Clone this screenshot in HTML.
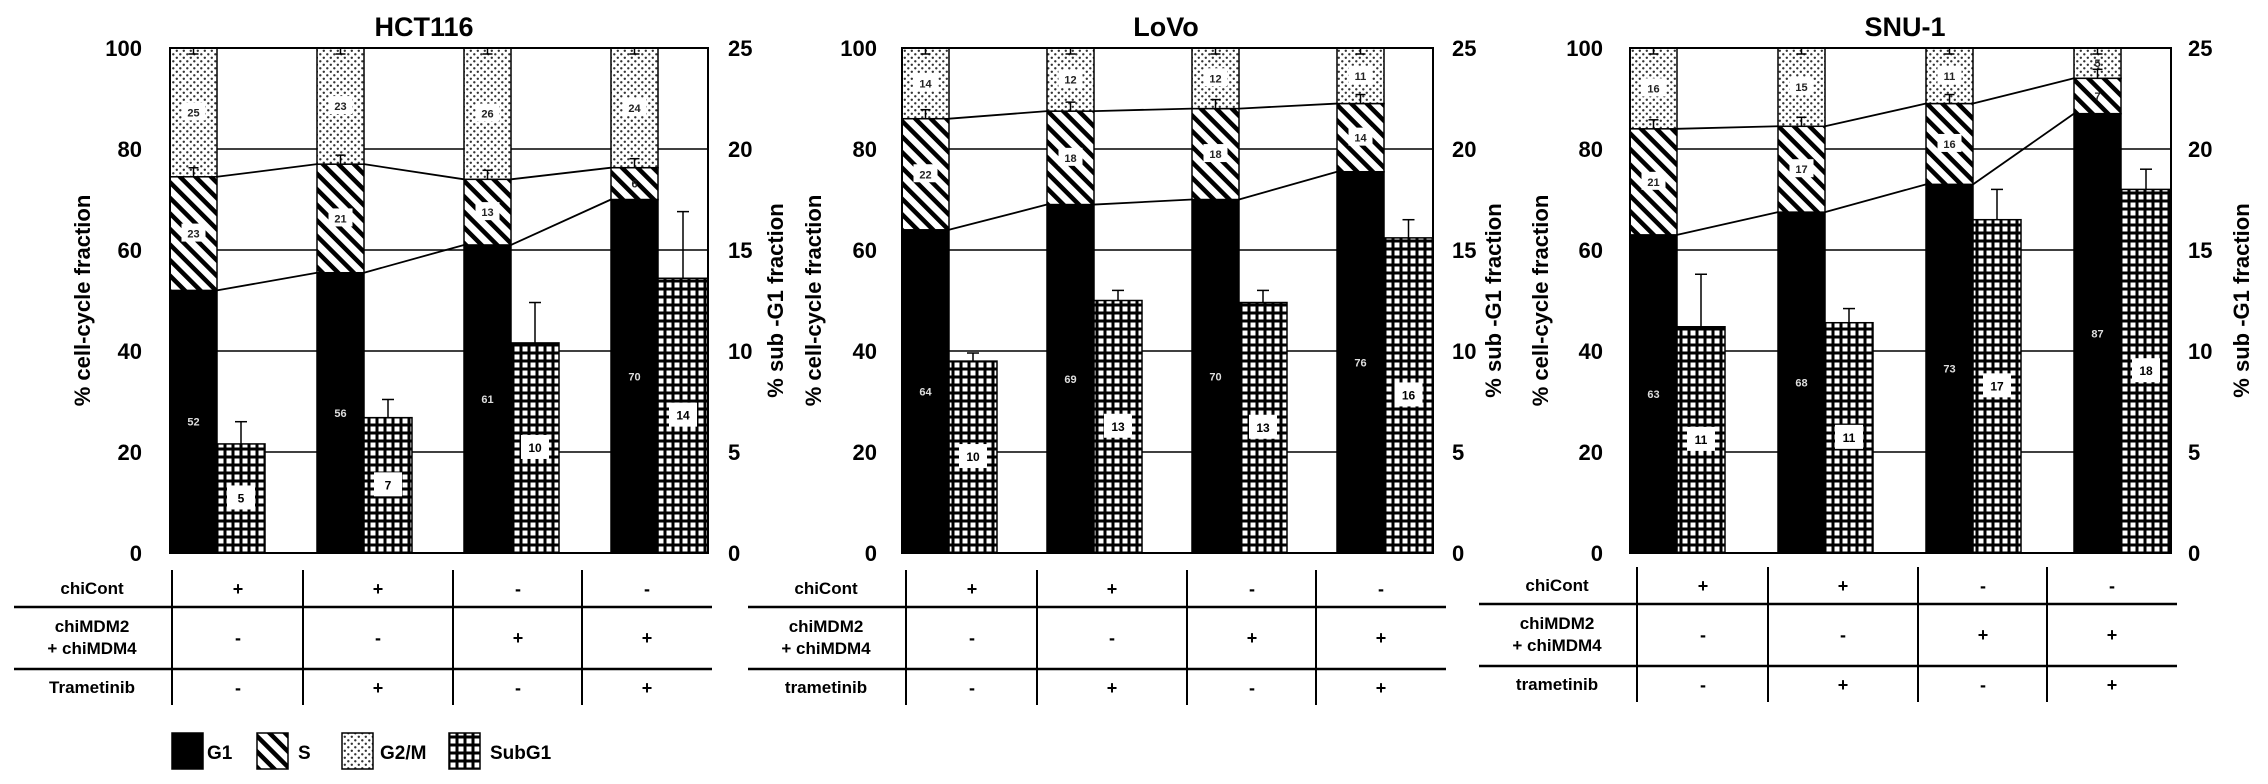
<!DOCTYPE html>
<html><head><meta charset="utf-8"><style>
html,body{margin:0;padding:0;background:#fff;}
svg{display:block;font-family:"Liberation Sans",Arial,sans-serif;}
</style></head><body>
<svg id="fig" width="2268" height="784" viewBox="0 0 2268 784" xmlns="http://www.w3.org/2000/svg">
<defs>
<pattern id="stripe" width="11" height="11" patternUnits="userSpaceOnUse" patternTransform="rotate(-45)"><rect width="11" height="11" fill="#fff"/><rect width="4.5" height="11" fill="#000"/></pattern>
<pattern id="dots" width="7" height="7" patternUnits="userSpaceOnUse"><rect width="7" height="7" fill="#fff"/><circle cx="1.8" cy="1.8" r="1.2" fill="#333"/><circle cx="5.3" cy="5.3" r="1.2" fill="#333"/></pattern>
<pattern id="grid" width="8" height="8" patternUnits="userSpaceOnUse"><rect width="8" height="8" fill="#000"/><rect x="2.5" y="2.5" width="5" height="5" fill="#fff"/></pattern>
</defs>
</svg>
<script>
// ---- data ----
const cellLines = ["HCT116","LoVo","SNU-1"];
const g1Values = [[52,55.5,61,70],[64,69,70,75.5],[63,67.5,73,87]];
const sValues = [[22.5,21.5,13,6.3],[22,18.5,18,13.5],[21,17,16,7]];
const g2mValues = [[25.5,23,26,23.7],[14,12.5,12,11],[16,15.5,11,6]];
const g1Labels = [["52","56","61","70"],["64","69","70","76"],["63","68","73","87"]];
const sLabels = [["23","21","13","6"],["22","18","18","14"],["21","17","16","7"]];
const g2mLabels = [["25","23","26","24"],["14","12","12","11"],["16","15","11","5"]];
const subG1Values = [[5.4,6.7,10.4,13.6],[9.5,12.5,12.4,15.6],[11.2,11.4,16.5,18]];
const subG1Errors = [[1.1,0.9,2,3.3],[0.4,0.5,0.6,0.9],[2.6,0.7,1.5,1.0]];
const subG1Labels = [["5","7","10","14"],["10","13","13","16"],["11","11","17","18"]];
const leftTicks = [0,20,40,60,80,100];
const rightTicks = [0,5,10,15,20,25];
const chiCont = ["+","+","-","-"];
const chiMDM = ["-","-","+","+"];
const trametinib = ["-","+","-","+"];

// ---- layout ----
const panels = [
 {left:170,right:708,pitch:147,tickR:142,rTickL:728,title:424,yt1:82,yt2:775,toff:0,tram:"Trametinib"},
 {left:902,right:1433,pitch:145,tickR:877,rTickL:1452,title:1166,yt1:813,yt2:1493,toff:734,tram:"trametinib"},
 {left:1630,right:2171,pitch:148,tickR:1603,rTickL:2188,title:1905,yt1:1540,yt2:2241,toff:1465,tram:"trametinib"}
];
const TOP=48, BOT=553, BW=47;
const svg=document.getElementById('fig');
const NS="http://www.w3.org/2000/svg";
function mk(tag,attrs,parent){const e=document.createElementNS(NS,tag);for(const k in attrs)e.setAttribute(k,attrs[k]);(parent||svg).appendChild(e);return e;}
function txt(s,attrs,parent){const e=mk('text',attrs,parent);e.textContent=s;return e;}
const yL=v=>BOT-(v/100)*(BOT-TOP);
const yR=v=>BOT-(v/25)*(BOT-TOP);

panels.forEach((p,pi)=>{
 const g=mk('g',{});
 
 
 const t=txt(cellLines[pi],{x:p.title,y:36,'text-anchor':'middle','font-size':27,'font-weight':'bold'},g);
 
 
 leftTicks.forEach(v=>{
  if(v>0&&v<100){const l=mk('line',{x1:p.left,x2:p.right,y1:yL(v),y2:yL(v),stroke:'#000','stroke-width':1.5},g);
  
  }
  const tl=txt(String(v),{x:p.tickR,y:yL(v)+8,'text-anchor':'end','font-size':22,'font-weight':'bold'},g);
  
  
 });
 rightTicks.forEach(v=>{
  const tl=txt(String(v),{x:p.rTickL,y:yR(v)+8,'font-size':22,'font-weight':'bold'},g);
  
  
 });
 const mid=(TOP+BOT)/2;
 const a1=txt('% cell-cycle fraction',{x:p.yt1,y:mid,'text-anchor':'middle','font-size':22,'font-weight':'bold',transform:`rotate(-90 ${p.yt1} ${mid})`,dy:8},g);
 
 
 const a2=txt('% sub -G1 fraction',{x:p.yt2,y:mid,'text-anchor':'middle','font-size':22,'font-weight':'bold',transform:`rotate(-90 ${p.yt2} ${mid})`,dy:8},g);
 
 

 const lines1=[],lines2=[];
 for(let i=0;i<4;i++){
  const x=p.left+i*p.pitch;
  const g1=g1Values[pi][i], s=sValues[pi][i], gm=g2mValues[pi][i];
  const segs=[[0,g1,'#000','bar-g1'],[g1,g1+s,'url(#stripe)','bar-s'],[g1+s,Math.min(100,g1+s+gm),'url(#dots)','bar-g2m']];
  segs.forEach(sg=>{
   const r=mk('rect',{x:x,y:yL(sg[1]),width:BW,height:yL(sg[0])-yL(sg[1]),fill:sg[2],stroke:'#000','stroke-width':1.5},g);
   
   
  });
  // small error ticks (S up into G2M; G2M down from top)
  const ys=yL(g1+s);
  mk('line',{x1:x+BW/2,x2:x+BW/2,y1:ys,y2:ys-9,stroke:'#000','stroke-width':1.5},g);
  mk('line',{x1:x+BW/2-5,x2:x+BW/2+5,y1:ys-9,y2:ys-9,stroke:'#000','stroke-width':1.5},g);
  mk('line',{x1:x+BW/2,x2:x+BW/2,y1:TOP,y2:TOP+6,stroke:'#000','stroke-width':1.5},g);
  mk('line',{x1:x+BW/2-5,x2:x+BW/2+5,y1:TOP+6,y2:TOP+6,stroke:'#000','stroke-width':1.5},g);
  const lab=(str,yv,fill,bg)=>{
   if(bg){mk('rect',{x:x+BW/2-12,y:yv-10,width:24,height:18,fill:'#fff'},g);}
   const tt=txt(str,{x:x+BW/2,y:yv+4,'text-anchor':'middle','font-size':11,'font-weight':'bold',fill:fill},g);
   
   
  };
  lab(g1Labels[pi][i],yL(g1*0.5),'#ddd',false);
  lab(sLabels[pi][i],yL(g1+s/2),'#222',s>8);
  lab(g2mLabels[pi][i],yL(g1+s+gm/2),'#222',gm>8);
  const sx=x+BW, sw=(i===3)?(p.right-sx):48;
  const v=subG1Values[pi][i], er=subG1Errors[pi][i];
  mk('line',{x1:sx+sw/2,x2:sx+sw/2,y1:yR(v),y2:yR(v+er),stroke:'#000','stroke-width':1.5},g);
  mk('line',{x1:sx+sw/2-6,x2:sx+sw/2+6,y1:yR(v+er),y2:yR(v+er),stroke:'#000','stroke-width':1.5},g);
  const sr=mk('rect',{x:sx,y:yR(v),width:sw,height:BOT-yR(v),fill:'url(#grid)',stroke:'#000','stroke-width':1.5},g);
  
  
  const ly=yR(v/2);
  mk('rect',{x:sx+sw/2-14,y:ly-13,width:28,height:24,fill:'#fff'},g);
  const st=txt(subG1Labels[pi][i],{x:sx+sw/2,y:ly+4,'text-anchor':'middle','font-size':12,'font-weight':'bold'},g);
  
  
  lines1.push([x,x+BW,yL(g1)]);lines2.push([x,x+BW,yL(g1+s)]);
 }
 [lines1,lines2].forEach(ls=>{
  for(let i=0;i<3;i++){
   const l=mk('line',{x1:ls[i][1],y1:ls[i][2],x2:ls[i+1][0],y2:ls[i+1][2],stroke:'#000','stroke-width':1.8},g);
   
   
  }
 });
 const fr=mk('rect',{x:p.left,y:TOP,width:p.right-p.left,height:BOT-TOP,fill:'none',stroke:'#000','stroke-width':2},g);
 
 

 const o=p.toff, tb=mk('g',{},g);
 
 
 const dy = pi===2?-3:0;
 [607,669].forEach(y=>mk('line',{x1:14+o,x2:712+o,y1:y+dy,y2:y+dy,stroke:'#000','stroke-width':2.5},tb));
 [172,303,453,582].forEach(x=>mk('line',{x1:x+o,x2:x+o,y1:570+dy,y2:705+dy,stroke:'#000','stroke-width':2},tb));
 txt('chiCont',{x:92+o,y:594+dy,'text-anchor':'middle','font-size':17,'font-weight':'bold'},tb);
 txt('chiMDM2',{x:92+o,y:632+dy,'text-anchor':'middle','font-size':17,'font-weight':'bold'},tb);
 txt('+ chiMDM4',{x:92+o,y:654+dy,'text-anchor':'middle','font-size':17,'font-weight':'bold'},tb);
 txt(p.tram,{x:92+o,y:693+dy,'text-anchor':'middle','font-size':17,'font-weight':'bold'},tb);
 [238,378,518,647].forEach((x,i)=>{
  txt(chiCont[i],{x:x+o,y:595+dy,'text-anchor':'middle','font-size':18,'font-weight':'bold'},tb);
  txt(chiMDM[i],{x:x+o,y:644+dy,'text-anchor':'middle','font-size':18,'font-weight':'bold'},tb);
  txt(trametinib[i],{x:x+o,y:694+dy,'text-anchor':'middle','font-size':18,'font-weight':'bold'},tb);
 });
});

const legend=[["G1","#000",172,207],["S","url(#stripe)",257,298],["G2/M","url(#dots)",342,380],["SubG1","url(#grid)",449,490]];
legend.forEach(L=>{
 const lg=mk('g',{});
 
 
 mk('rect',{x:L[2],y:733,width:31,height:36,fill:L[1],stroke:'#000','stroke-width':1.5},lg);
 txt(L[0],{x:L[3],y:759,'font-size':19,'font-weight':'bold'},lg);
});
</script>
</body></html>
